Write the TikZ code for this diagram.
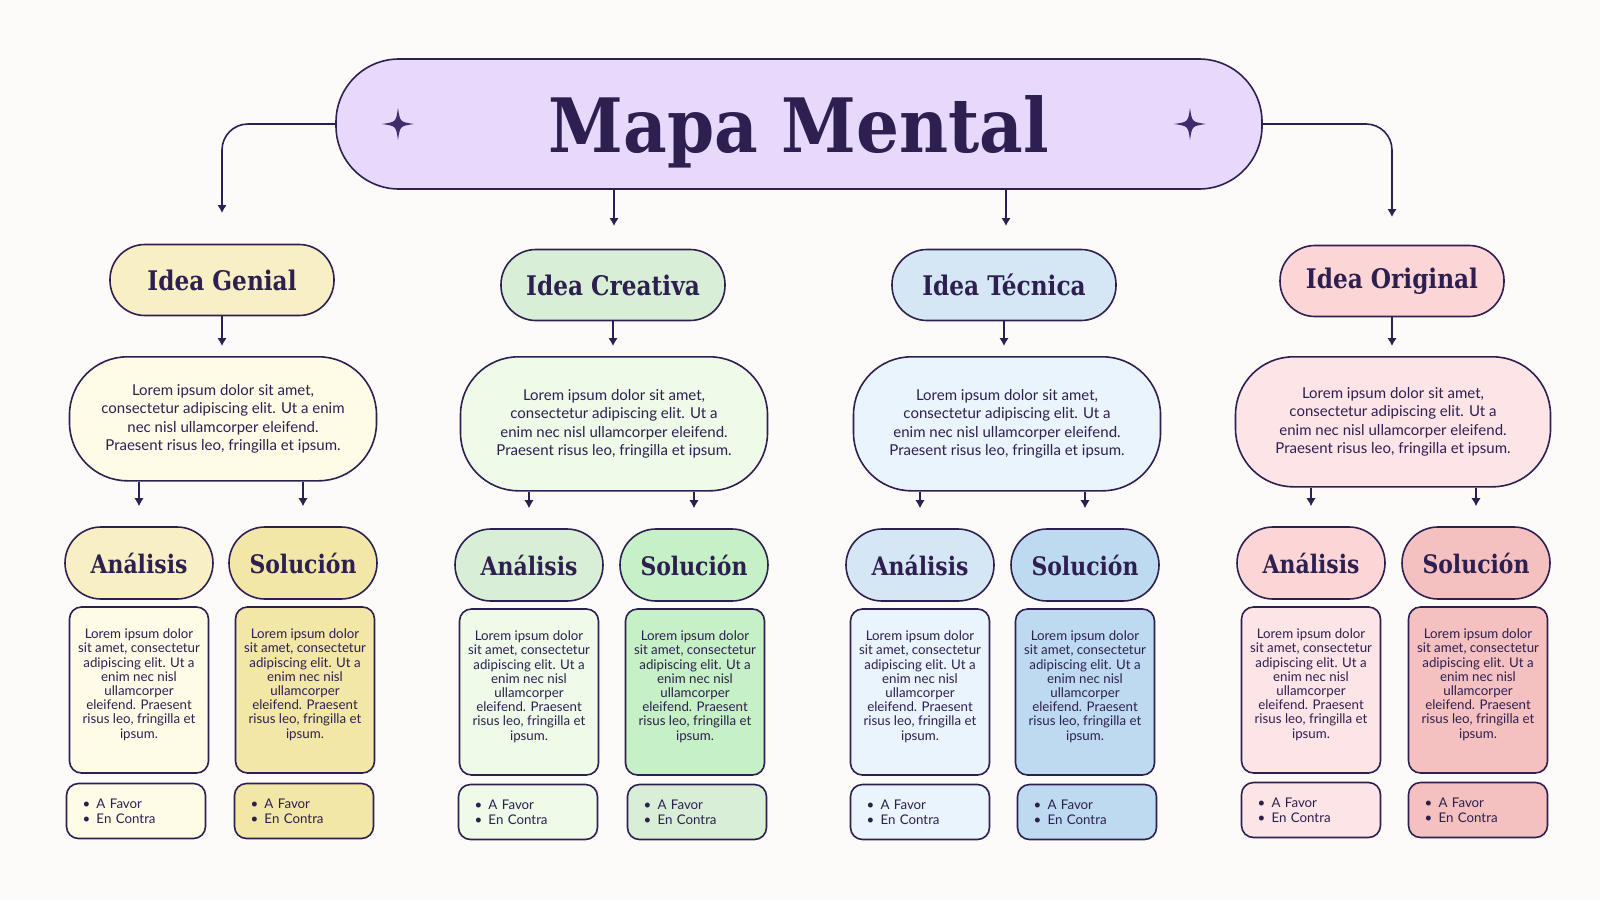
\documentclass[tikz,border=0pt]{standalone}
\usepackage{fontspec}
\setmainfont{Lato}
\newfontfamily\headfont{DejaVu Serif}[FakeStretch=0.86]
\newfontfamily\bigfont{DejaVu Serif}[FakeStretch=0.9]
\usetikzlibrary{arrows.meta,positioning,calc}
\definecolor{ink}{HTML}{2D1F4F}
\definecolor{star}{HTML}{3F2C6A}
\definecolor{paper}{HTML}{FDFBF9}
\definecolor{lilac}{HTML}{E6D9FC}
\definecolor{yelA}{HTML}{F8F0C4}
\definecolor{yelB}{HTML}{FEFCE6}
\definecolor{yelC}{HTML}{F3E7A8}
\definecolor{grnA}{HTML}{D8EED6}
\definecolor{grnB}{HTML}{EDFBE8}
\definecolor{grnC}{HTML}{C6F0C6}
\definecolor{bluA}{HTML}{D5E7F5}
\definecolor{bluB}{HTML}{E9F4FD}
\definecolor{bluC}{HTML}{BDDAF0}
\definecolor{pnkA}{HTML}{FCD6D7}
\definecolor{pnkB}{HTML}{FDE5E7}
\definecolor{pnkC}{HTML}{F5C0C0}
\newcommand\lorembig{Lorem ipsum dolor sit amet,\\consectetur adipiscing elit. Ut a enim\\nec nisl ullamcorper eleifend.\\Praesent risus leo, fringilla et ipsum.}
\newcommand\loremwide{Lorem ipsum dolor sit amet,\\consectetur adipiscing elit. Ut a\\enim nec nisl ullamcorper eleifend.\\Praesent risus leo, fringilla et ipsum.}
\newcommand\loremsmall{Lorem ipsum dolor\\sit amet, consectetur\\adipiscing elit. Ut a\\enim nec nisl\\ullamcorper\\eleifend. Praesent\\risus leo, fringilla et\\ipsum.}
\newcommand\proscons{\makebox[14pt][l]{\textbullet}A Favor\\\makebox[14pt][l]{\textbullet}En Contra}
\tikzset{
    mainpill/.style={
        rectangle,
        rounded corners=63pt,
        draw=ink,
        line width=1.6pt,
        fill=lilac,
        text=ink,
        minimum width=926pt,
        minimum height=130pt,
        text depth=0pt,
        font=\bigfont\bfseries\fontsize{75}{80}\selectfont,
    },
    idea/.style={
        rectangle,
        rounded corners=35pt,
        draw=ink,
        line width=1.6pt,
        text=ink,
        minimum width=224pt,
        minimum height=71pt,
        font=\headfont\bfseries\fontsize{27}{30}\selectfont,
    },
    desc/.style={
        rectangle,
        rounded corners=58pt,
        draw=ink,
        line width=1.6pt,
        text=ink,
        anchor=north,
        minimum width=307pt,
        align=center,
        font=\fontsize{15}{18.4}\selectfont,
    },
    sub/.style={
        rectangle,
        rounded corners=36pt,
        draw=ink,
        line width=1.6pt,
        text=ink,
        minimum width=148pt,
        minimum height=72pt,
        font=\headfont\bfseries\fontsize{25.5}{30}\selectfont,
    },
    note/.style={
        rectangle,
        rounded corners=12pt,
        draw=ink,
        line width=1.6pt,
        text=ink,
        minimum width=139pt,
        minimum height=166pt,
        text depth=13pt,
        align=center,
        font=\fontsize{13.3}{14.2}\selectfont,
    },
    pro/.style={
        rectangle,
        rounded corners=12pt,
        draw=ink,
        line width=1.6pt,
        text=ink,
        inner xsep=16pt,
        text width=107pt,
        minimum height=55pt,
        align=left,
        font=\fontsize{13.3}{15.2}\selectfont,
    },
    arr/.style={
        draw=ink,
        line width=1.6pt,
        -{Latex[length=8pt,width=9.5pt]},
    },
    pics/sparkle/.style={code={
        \fill[star] (0,-16) .. controls (2,-2) .. (16,0) .. controls (2,2) .. (0,16)
            .. controls (-2,2) .. (-16,0) .. controls (-2,-2) .. cycle;
    }},
}
\begin{document}
\begin{tikzpicture}[x=1pt,y=-1pt]
\fill[paper] (0,0) rectangle (1600,900);

% title
\node[mainpill] (T) at (799,124) {Mapa Mental};
\pic at (398,124) {sparkle};
\pic at (1190,124) {sparkle};
\coordinate (c1) at (222,213);
\coordinate (c2) at (614,226);
\coordinate (c3) at (1006,226);
\coordinate (c4) at (1392,217);
\draw[arr, rounded corners=26pt] (T.west) -| (c1);
\draw[arr, rounded corners=26pt] (T.east) -| (c4);
\draw[arr] (T.south -| c2) -- (c2);
\draw[arr] (T.south -| c3) -- (c3);

% ideas
\node[idea, fill=yelA] (I1) at (222,280) {Idea Genial};
\node[idea, fill=grnA] (I2) at (613,285) {Idea Creativa};
\node[idea, fill=bluA] (I3) at (1004,285) {Idea Técnica};
\node[idea, fill=pnkA] (I4) at (1392,281) {Idea Original};

\node[desc, fill=yelB, minimum height=124pt] (D1) at (223,356) {\lorembig};
\node[desc, fill=grnB, minimum height=134pt] (D2) at (614,356) {\loremwide};
\node[desc, fill=bluB, minimum height=134pt] (D3) at (1007,356) {\loremwide};
\node[desc, fill=pnkB, minimum height=130pt, minimum width=315pt] (D4) at (1393,356) {\loremwide};
\draw[arr, shorten >=10pt] (I1.south) -- (I1.south |- D1.north);
\draw[arr, shorten >=10pt] (I2.south) -- (I2.south |- D2.north);
\draw[arr, shorten >=10pt] (I3.south) -- (I3.south |- D3.north);
\draw[arr, shorten >=10pt] (I4.south) -- (I4.south |- D4.north);

% analisis / solucion
\node[sub, fill=yelA] (A1) at (139,563) {Análisis};
\node[sub, fill=yelC] (S1) at (303,563) {Solución};
\node[sub, fill=grnA] (A2) at (529,565) {Análisis};
\node[sub, fill=grnC] (S2) at (694,565) {Solución};
\node[sub, fill=bluA] (A3) at (920,565) {Análisis};
\node[sub, fill=bluC] (S3) at (1085,565) {Solución};
\node[sub, fill=pnkA] (A4) at (1311,563) {Análisis};
\node[sub, fill=pnkC] (S4) at (1476,563) {Solución};
\draw[arr, shorten >=20pt] (D1.south -| A1) -- (A1.north);
\draw[arr, shorten >=20pt] (D1.south -| S1) -- (S1.north);
\draw[arr, shorten >=20pt] (D2.south -| A2) -- (A2.north);
\draw[arr, shorten >=20pt] (D2.south -| S2) -- (S2.north);
\draw[arr, shorten >=20pt] (D3.south -| A3) -- (A3.north);
\draw[arr, shorten >=20pt] (D3.south -| S3) -- (S3.north);
\draw[arr, shorten >=20pt] (D4.south -| A4) -- (A4.north);
\draw[arr, shorten >=20pt] (D4.south -| S4) -- (S4.north);

% text boxes
\node[note, fill=yelB] (NA1) at (139,690) {\loremsmall};
\node[note, fill=yelC] (NS1) at (305,690) {\loremsmall};
\node[note, fill=grnB] (NA2) at (529,692) {\loremsmall};
\node[note, fill=grnC] (NS2) at (695,692) {\loremsmall};
\node[note, fill=bluB] (NA3) at (920,692) {\loremsmall};
\node[note, fill=bluC] (NS3) at (1085,692) {\loremsmall};
\node[note, fill=pnkB] (NA4) at (1311,690) {\loremsmall};
\node[note, fill=pnkC] (NS4) at (1478,690) {\loremsmall};

% a favor / en contra
\node[pro, fill=yelB] (BA1) at (136,811) {\proscons};
\node[pro, fill=yelC] (BS1) at (304,811) {\proscons};
\node[pro, fill=grnB] (BA2) at (528,812) {\proscons};
\node[pro, fill=grnA] (BS2) at (697,812) {\proscons};
\node[pro, fill=bluB] (BA3) at (920,812) {\proscons};
\node[pro, fill=bluC] (BS3) at (1087,812) {\proscons};
\node[pro, fill=pnkB] (BA4) at (1311,810) {\proscons};
\node[pro, fill=pnkC] (BS4) at (1478,810) {\proscons};
\end{tikzpicture}
\end{document}
